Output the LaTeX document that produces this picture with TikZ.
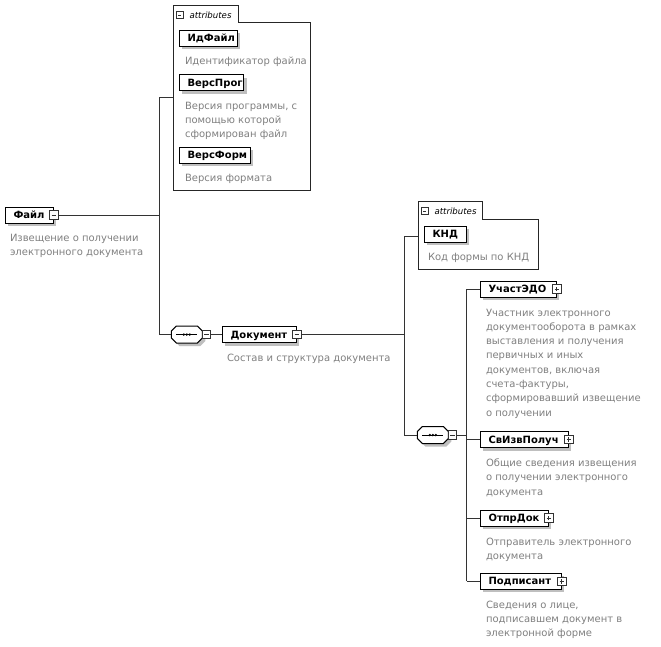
\documentclass[tikz,border=0pt]{standalone}
\usepackage{fontspec}
\setmainfont{DejaVu Sans}
\usetikzlibrary{shadows}
\newcommand\octpath[3]{([shift={(5+#2,#3)}]#1.north west) -- ([shift={(-5+#2,#3)}]#1.north east)
  -- ([shift={(#2,5+#3)}]#1.north east) -- ([shift={(#2,-5+#3)}]#1.south east)
  -- ([shift={(-5+#2,#3)}]#1.south east) -- ([shift={(5+#2,#3)}]#1.south west)
  -- ([shift={(#2,-5+#3)}]#1.south west) -- ([shift={(#2,5+#3)}]#1.north west) -- cycle}
\newcommand\drawseq[1]{%
  \fill[black!25] \octpath{#1}{3}{3};
  \draw[black,line width=1pt,fill=white] \octpath{#1}{0}{0};
  \draw[line width=0.9pt] ([xshift=-10.5pt]#1.center) -- ([xshift=10.5pt]#1.center);
  \foreach \d in {-3,0,3} \fill ([xshift=\d pt]#1.center) circle (1.3pt);}
\begin{document}
\begin{tikzpicture}[x=1pt,y=-1pt,
  every node/.style={outer sep=0pt},
  conn/.style={draw=black!80,line width=1pt},
  aline/.style={draw=black!85,line width=1pt},
  elem/.style={draw=black,line width=1pt,fill=white,rectangle,anchor=west,
    minimum height=16pt,inner ysep=0pt,inner xsep=8.5pt,text height=7.3pt,text depth=0pt,
    align=left,font=\bfseries\fontsize{10}{12}\selectfont,
    drop shadow={shadow xshift=3pt,shadow yshift=-3pt,fill=black!25,opacity=1}},
  desc/.style={anchor=north west,inner sep=0pt,align=left,text=black!50,
    font=\fontsize{10}{14.3}\selectfont},
  icon/.style={draw=black!80,fill=white,line width=0.8pt,minimum size=8.5pt,inner sep=0pt,rectangle},
  iminus/.style={icon,path picture={\draw[line width=0.8pt]
      ([xshift=2pt]path picture bounding box.west) -- ([xshift=-2pt]path picture bounding box.east);}},
  iplus/.style={icon,path picture={\draw[line width=0.8pt]
      ([xshift=2pt]path picture bounding box.west) -- ([xshift=-2pt]path picture bounding box.east)
      ([yshift=2pt]path picture bounding box.south) -- ([yshift=-2pt]path picture bounding box.north);}},
  seqbox/.style={rectangle,minimum width=31pt,minimum height=17pt,inner sep=0pt},
  tabtxt/.style={inner sep=0pt,anchor=base west,font=\itshape\fontsize{8.6}{10}\selectfont}
]
\fill[white] (0,0) rectangle (661,646);
\useasboundingbox (0,0) rectangle (661,646);

% ---------- root
\node[elem,text width=31pt] (fajl) at (5,215) {Файл};
\node[iminus] (fajlI) at ([xshift=0.8pt]fajl.east) {};
\node[desc] (fajlD) at ([xshift=5pt,yshift=-8.5pt]fajl.south west) {\strut Извещение о получении\\электронного документа};

% ---------- attributes 1
\node[anchor=south west,minimum width=65pt,minimum height=17.5pt,inner sep=0pt] (tab1) at (173,22.5) {};
\node[anchor=north west,minimum width=137pt,minimum height=167.5pt,inner sep=0pt] (attr1) at (173,22.5) {};
\draw[aline] (attr1.south west) -- (tab1.north west) -- (tab1.north east) -- (tab1.south east)
  -- (attr1.north east) -- (attr1.south east) -- cycle;
\node[iminus,minimum size=7pt] (tab1I) at (179.5,15) {};
\node[tabtxt] (tab1T) at (189.5,18) {attributes};

\node[elem,text width=41pt] (ida) at (179,38) {ИдФайл};
\node[desc] (idaD) at ([xshift=6pt,yshift=-8.5pt]ida.south west) {\strut Идентификатор файла};
\node[elem,text width=47.5pt] (vprog) at (179,82.5) {ВерсПрог};
\node[desc] (vprogD) at ([xshift=6pt,yshift=-8.5pt]vprog.south west) {\strut Версия программы, с\\помощью которой\\сформирован файл};
\node[elem,text width=54pt] (vform) at (179,155) {ВерсФорм};
\node[desc] (vformD) at ([xshift=6pt,yshift=-8.5pt]vform.south west) {\strut Версия формата};

% ---------- sequence 1 and Документ
\node[seqbox] (seq1) at (186.8,334.5) {};
\drawseq{seq1}
\node[iminus] (seq1I) at ([xshift=4.3pt]seq1.east) {};
\node[elem,text width=57pt] (dok) at (222,334.5) {Документ};
\node[iminus] (dokI) at ([xshift=0.8pt]dok.east) {};
\node[desc] (dokD) at ([xshift=5pt,yshift=-8.5pt]dok.south west) {\strut Состав и структура документа};

% ---------- attributes 2
\node[anchor=south west,minimum width=64pt,minimum height=18pt,inner sep=0pt] (tab2) at (418,219.5) {};
\node[anchor=north west,minimum width=120.5pt,minimum height=50pt,inner sep=0pt] (attr2) at (418,219.5) {};
\draw[aline] (attr2.south west) -- (tab2.north west) -- (tab2.north east) -- (tab2.south east)
  -- (attr2.north east) -- (attr2.south east) -- cycle;
\node[iminus,minimum size=7pt] (tab2I) at (424.5,211) {};
\node[tabtxt] (tab2T) at (434.5,214) {attributes};
\node[elem,text width=25pt] (knd) at (424,234) {КНД};
\node[desc] (kndD) at ([xshift=4pt,yshift=-8.5pt]knd.south west) {\strut Код формы по КНД};

% ---------- sequence 2 and children
\node[seqbox] (seq2) at (432.8,435) {};
\drawseq{seq2}
\node[iminus] (seq2I) at ([xshift=4.3pt]seq2.east) {};

\node[elem,text width=59pt] (uch) at (480,289) {УчастЭДО};
\node[iplus] (uchI) at ([xshift=0.8pt]uch.east) {};
\node[desc] (uchD) at ([xshift=6pt,yshift=-9pt]uch.south west) {\strut Участник электронного\\документооборота в рамках\\выставления и получения\\первичных и иных\\документов, включая\\счета-фактуры,\\сформировавший извещение\\о получении};

\node[elem,text width=71pt] (svizv) at (480,439.5) {СвИзвПолуч};
\node[iplus] (svizvI) at ([xshift=0.8pt]svizv.east) {};
\node[desc] (svizvD) at ([xshift=6pt,yshift=-9pt]svizv.south west) {\strut Общие сведения извещения\\о получении электронного\\документа};

\node[elem,text width=51pt] (otpr) at (480,518) {ОтпрДок};
\node[iplus] (otprI) at ([xshift=0.8pt]otpr.east) {};
\node[desc] (otprD) at ([xshift=6pt,yshift=-9pt]otpr.south west) {\strut Отправитель электронного\\документа};

\node[elem,text width=64pt] (podp) at (480,581.3) {Подписант};
\node[iplus] (podpI) at ([xshift=0.8pt]podp.east) {};
\node[desc] (podpD) at ([xshift=6pt,yshift=-9pt]podp.south west) {\strut Сведения о лице,\\подписавшем документ в\\электронной форме};

% ---------- connectors
\coordinate (t1) at (159.5,97);
\coordinate (a1in) at (173,97);
\draw[conn] (fajlI.east) -- (fajlI.east -| t1);
\draw[conn] (a1in) -- (t1) -- (t1 |- seq1.west) -- (seq1.west);
\draw[conn] (seq1I.east) -- (dok.west);

\coordinate (t2) at (404,236);
\coordinate (a2in) at (418,236);
\draw[conn] (dokI.east) -- (dokI.east -| t2);
\draw[conn] (a2in) -- (t2) -- (t2 |- seq2.west) -- (seq2.west);

\coordinate (t3) at (466.5,289);
\draw[conn] (seq2I.east) -- (seq2I.east -| t3);
\draw[conn] (t3 |- uch.west) -- (t3 |- podp.west);
\foreach \n in {uch,svizv,otpr,podp} \draw[conn] (t3 |- \n.west) -- (\n.west);
\end{tikzpicture}
\end{document}
